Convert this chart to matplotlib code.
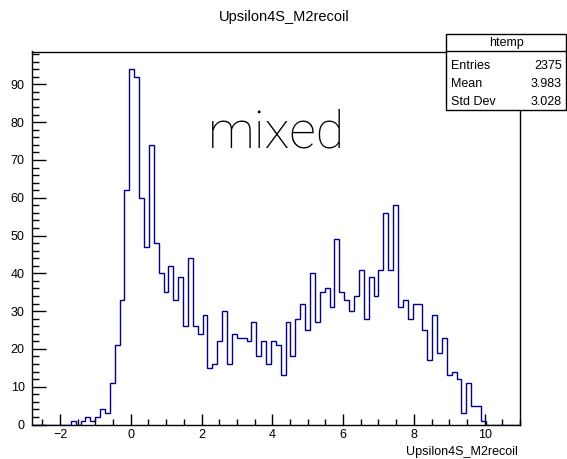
import numpy as np
import matplotlib.pyplot as plt
from matplotlib.patches import Rectangle
from matplotlib.ticker import MultipleLocator

plt.rcParams['font.family'] = ['Liberation Sans', 'DejaVu Sans']

# htemp: 100 bins, counts (non-zero part starts at bin 8)
n_bins = 100
x_min, x_max = -2.8, 11.0
first_bin = 8
counts_nonzero = [1, 0, 1, 2, 1, 2, 4, 3, 11, 21, 33, 62,
                  94, 92, 60, 47, 74, 48, 40, 35, 42, 33,
                  39, 26, 44, 26, 24, 29, 15, 16, 22, 30,
                  16, 24, 23, 23, 22, 27, 18, 22, 16, 22,
                  21, 13, 27, 18, 28, 32, 25, 40, 27, 35,
                  36, 31, 49, 35, 33, 30, 34, 41, 28, 39,
                  34, 41, 56, 41, 58, 31, 33, 28, 32, 32,
                  25, 17, 29, 19, 23, 13, 14, 12, 3, 11, 5, 5, 1]

stats_rows = [("Entries", "2375"), ("Mean", "3.983"), ("Std Dev", "3.028")]

counts = np.zeros(n_bins)
counts[first_bin:first_bin + len(counts_nonzero)] = counts_nonzero
edges = np.linspace(x_min, x_max, n_bins + 1)

W, H = 567, 459
fig = plt.figure(figsize=(W / 100, H / 100), dpi=100)
ax = fig.add_axes([31.7 / W, 1 - 424.5 / H, (520 - 31.7) / W, (424.5 - 51.5) / H])

ax.stairs(counts, edges, color='#000099', linewidth=1)
ax.set_xlim(x_min, x_max)
ax.set_ylim(0, counts.max() * 1.05)

ax.xaxis.set_major_locator(MultipleLocator(2))
ax.xaxis.set_minor_locator(MultipleLocator(0.5))
ax.yaxis.set_major_locator(MultipleLocator(10))
ax.yaxis.set_minor_locator(MultipleLocator(2))
ax.tick_params(axis='x', which='major', direction='in', length=8, width=1, pad=3, labelsize=9)
ax.tick_params(axis='x', which='minor', direction='in', length=4, width=1)
ax.tick_params(axis='y', which='major', direction='in', length=10, width=1, pad=5, labelsize=9)
ax.tick_params(axis='y', which='minor', direction='in', length=5, width=1)
for s in ax.spines.values():
    s.set_linewidth(1)

fig.text(284 / W, 1 - 17 / H, "Upsilon4S_M2recoil", ha='center', va='center', fontsize=10.5)
fig.text(518 / W, 1 - 452 / H, "Upsilon4S_M2recoil", ha='right', va='center', fontsize=9)
fig.text(208 / W, 1 - 148 / H, "mixed", ha='left', va='baseline', fontsize=37.5,
         family=['Roboto', 'DejaVu Sans'], fontweight='light')

# stats box
bx0, bx1, by0, by1, bsep = 446, 566, 34, 110, 51
fig.patches.append(Rectangle((bx0 / W, 1 - by1 / H), (bx1 - bx0) / W, (by1 - by0) / H,
                             transform=fig.transFigure, facecolor='white',
                             edgecolor='black', linewidth=1, zorder=5))
fig.lines.append(plt.Line2D([bx0 / W, bx1 / W], [1 - bsep / H, 1 - bsep / H],
                            transform=fig.transFigure, color='black', linewidth=1, zorder=6))
fig.text((bx0 + bx1) / 2 / W, 1 - 43 / H, "htemp", ha='center', va='center', fontsize=9, zorder=7)
for i, (k, v) in enumerate(stats_rows):
    y = 1 - (66 + 18 * i) / H
    fig.text(451 / W, y, k, ha='left', va='center', fontsize=9, zorder=7)
    fig.text(562 / W, y, v, ha='right', va='center', fontsize=9, zorder=7)

fig.savefig('out.png', dpi=100)
